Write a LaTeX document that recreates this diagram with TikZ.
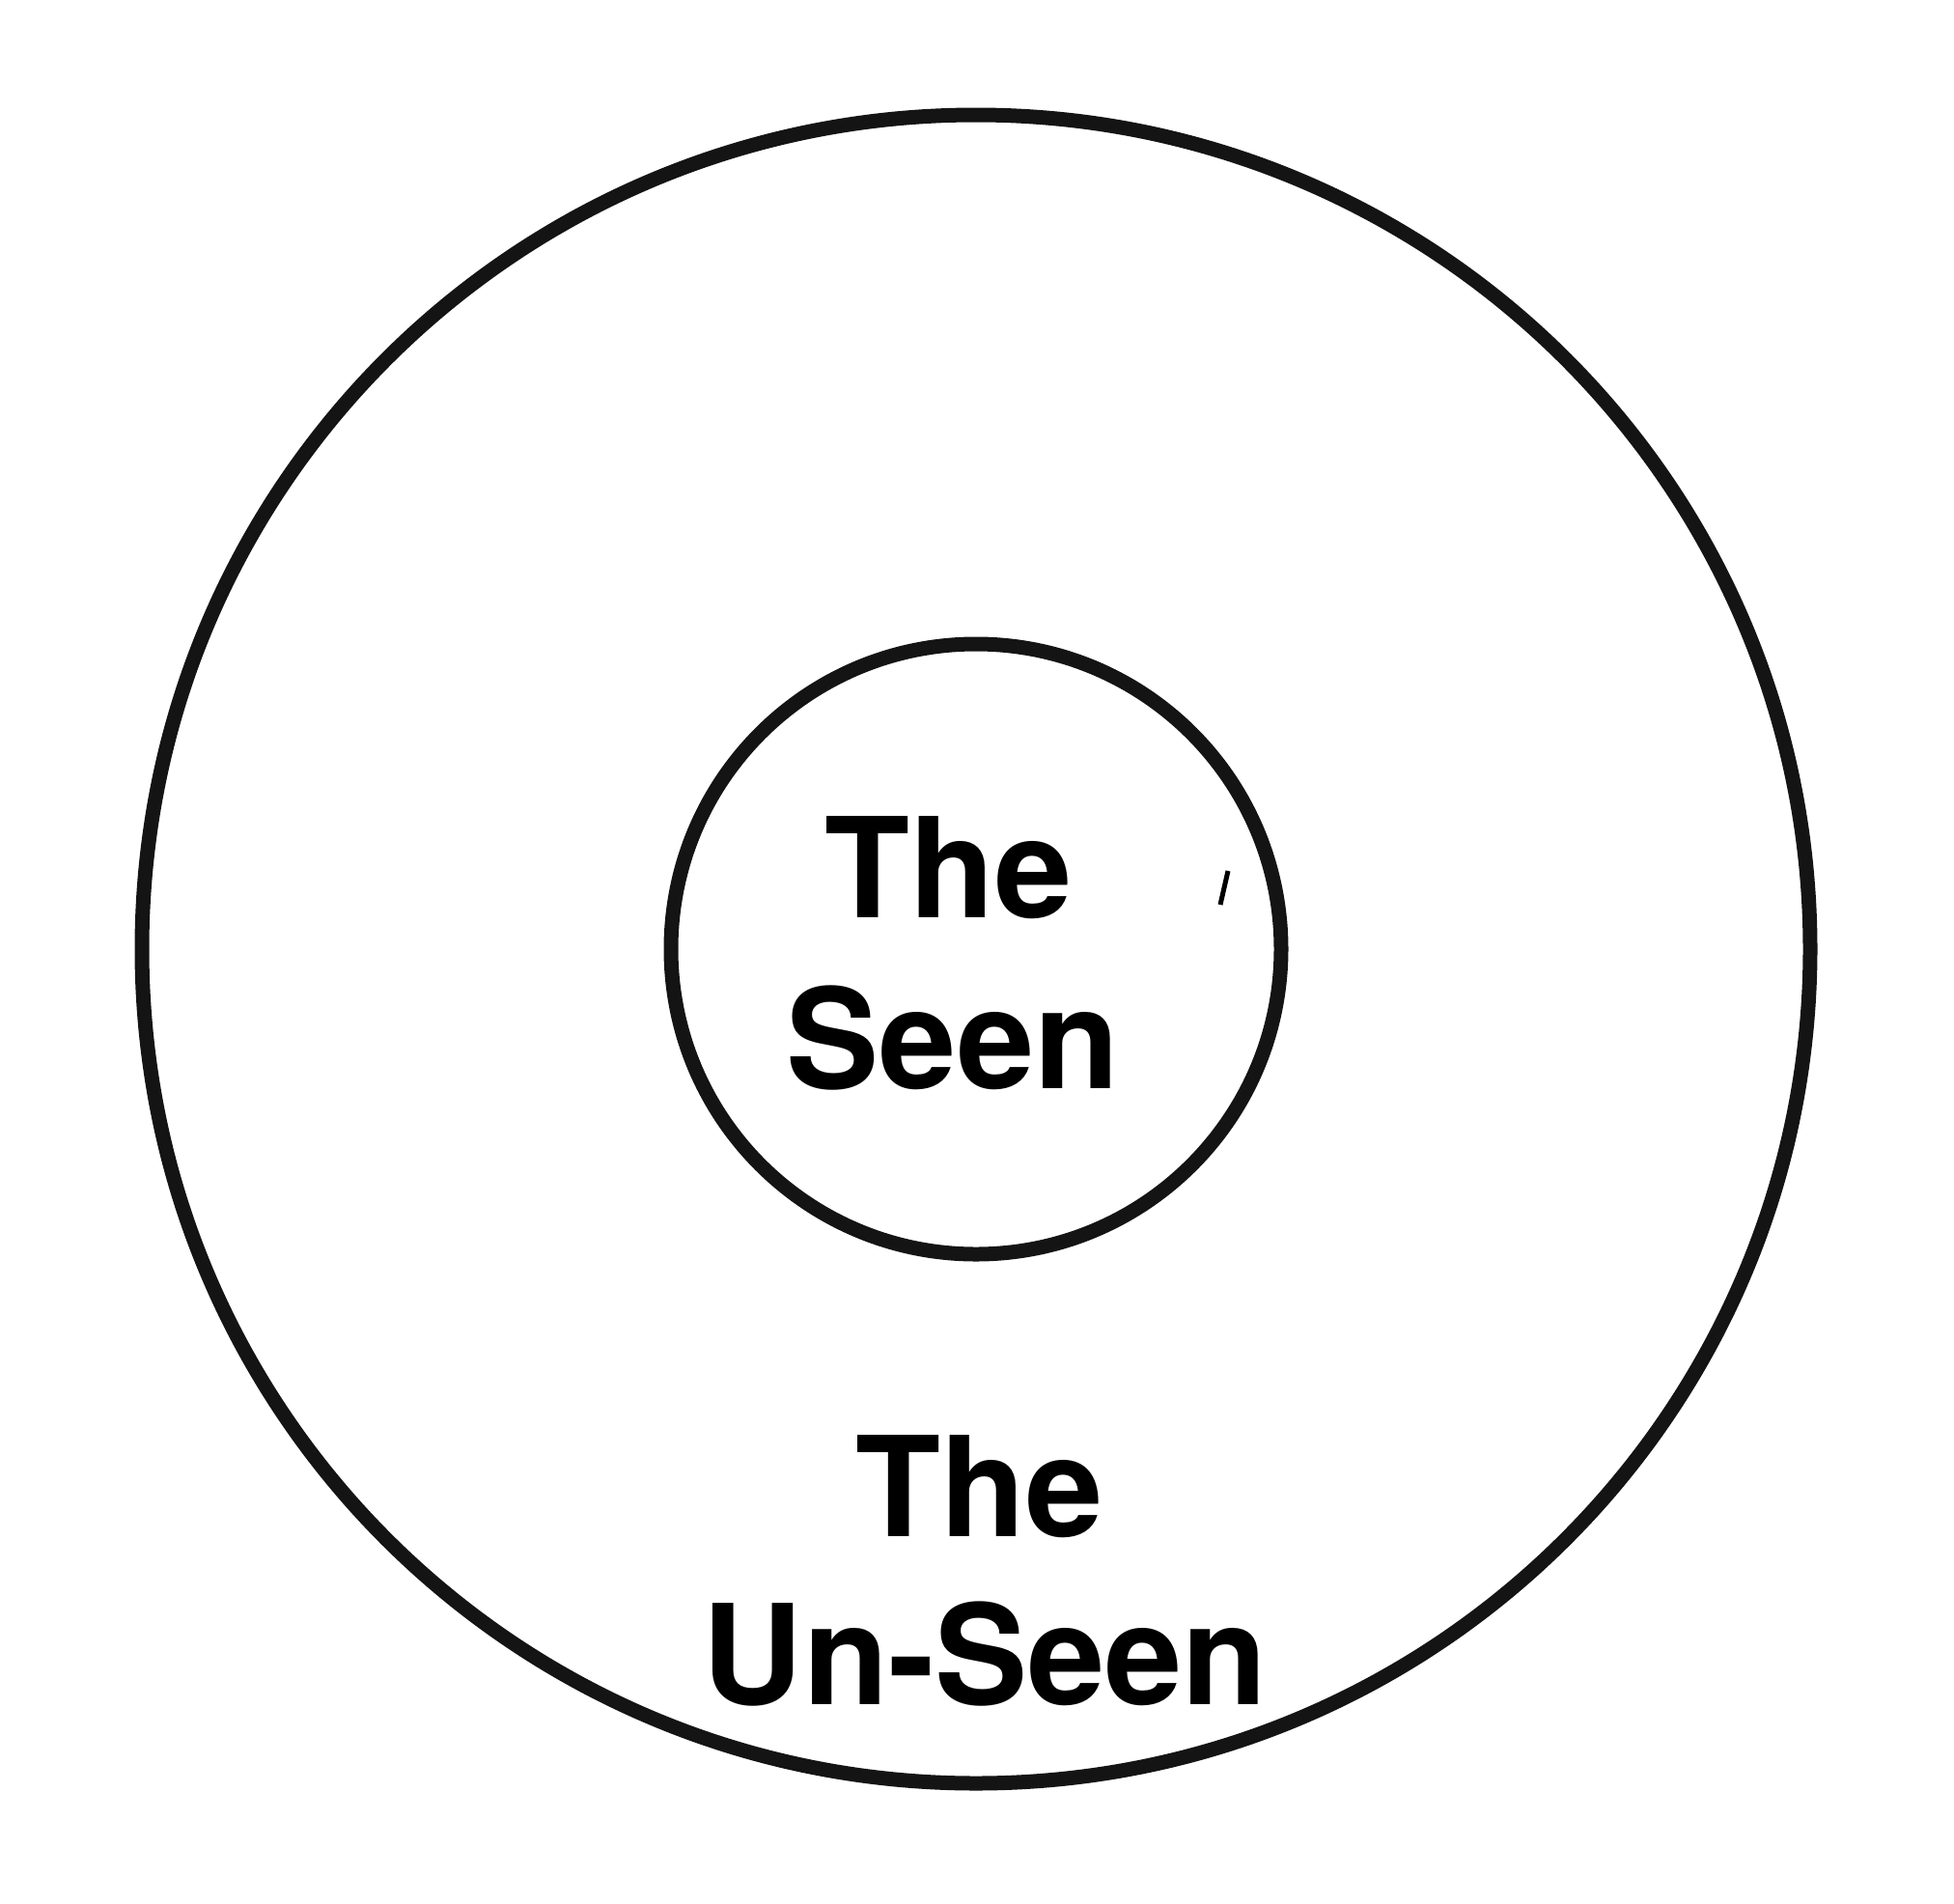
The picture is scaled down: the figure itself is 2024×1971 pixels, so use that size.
\documentclass[tikz,border=0pt]{standalone}
\usepackage{fontspec}
\setmainfont{TeX Gyre Heros}
\begin{document}
\begin{tikzpicture}[x=0.5pt,y=-0.5pt,
  ring/.style={draw=black!92,line width=7.5pt},
  lbl/.style={font=\fontsize{72pt}{87pt}\selectfont\bfseries,anchor=base,inner sep=0pt}]
\useasboundingbox (0,0) rectangle (2024,1971);
\fill[white] (0,0) rectangle (2024,1971);
\coordinate (c) at (1011,983);
\node[circle,ring,minimum size=1728*0.5pt,inner sep=0pt] (outer) at (c) {};
\node[circle,ring,minimum size=632*0.5pt,inner sep=0pt] (inner) at (c) {};
\node[lbl] (seenA) at (983,950) {The};
\node[lbl] (seenB) at (987,1127) {Seen};
\node[lbl] (unA) at (1015,1591) {The};
\node[lbl] (unB) at (1020,1765) {Un-Seen};
\draw[black,line width=2.5pt] (1272,902) -- (1264,937);
\end{tikzpicture}
\end{document}
